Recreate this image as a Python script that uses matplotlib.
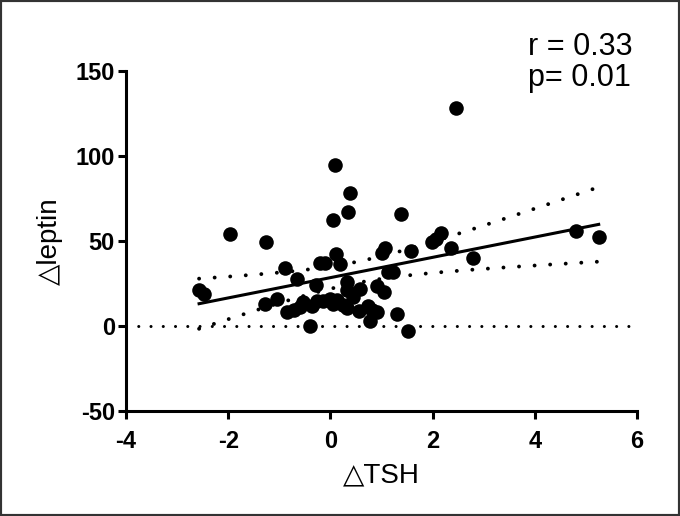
import numpy as np
import matplotlib.pyplot as plt
from matplotlib.patches import Rectangle

# data (delta TSH vs delta leptin)
tsh = [2.45, 0.08, 0.38, 0.34, 0.05, 1.38, -1.96, -1.26, 2.16, 2.06,
       1.98, 2.35, 2.80, 1.58, 1.07, 1.00, 0.10, 0.19, -0.20, -0.10,
       -0.88, -0.66, -0.28, 1.13, 1.23, 0.32, 0.33, 0.58, 0.92, 1.05,
       -2.57, -2.47, -1.28, -1.05, -0.72, -0.53, -0.37, -0.27, -0.14, 0.00,
       0.05, 0.25, 0.32, 0.56, 0.74, 0.81, 0.91, 1.30, 0.78, -0.40,
       1.51, 4.81, 5.25, -0.85, 0.12, -0.60, 0.45]
leptin = [128, 94.5, 78, 67, 62, 66, 54, 49.5, 54.5, 51,
          49, 46, 40, 44, 46, 42.5, 42, 36.5, 37, 37,
          34, 27.5, 24, 31.5, 31.5, 26, 21, 21.5, 23.5, 20,
          21, 18.5, 13, 15.5, 9, 13.8, 11.8, 14.7, 14.8, 15.7,
          12.7, 12, 10.5, 8.8, 11.8, 9.5, 8, 6.9, 3, 0,
          -3, 56, 52, 8, 15, 11, 17]

r_text = "r = 0.33"
p_text = "p= 0.01"

x = np.array(tsh)
y = np.array(leptin)

# linear fit with 95% confidence band
slope, icpt = np.polyfit(x, y, 1)
n = len(x)
xf = np.linspace(x.min(), x.max(), 200)
yf = slope * xf + icpt
resid = y - (slope * x + icpt)
s = np.sqrt(np.sum(resid**2) / (n - 2))
sxx = np.sum((x - x.mean())**2)
t_crit = 2.0
half = t_crit * s * np.sqrt(1 / n + (xf - x.mean())**2 / sxx)

plt.rcParams['font.family'] = ['Liberation Sans', 'DejaVu Sans']
plt.rcParams['axes.unicode_minus'] = False

fig = plt.figure(figsize=(6.8, 5.16), dpi=100)
ax = fig.add_axes([0.1853, 0.204, 0.7515, 0.659])

dots = (0, (0.01, 4))
ax.plot([-4, 6], [0, 0], color='black', lw=2.2, linestyle=dots,
        dash_capstyle='round', zorder=1)
ax.plot(xf, yf + half, color='black', lw=2.8, linestyle=dots,
        dash_capstyle='round', zorder=1)
ax.plot(xf, yf - half, color='black', lw=2.8, linestyle=dots,
        dash_capstyle='round', zorder=1)
ax.plot(xf, yf, color='black', lw=2.2, zorder=2)
ax.scatter(x, y, s=110, color='black', zorder=3, linewidths=0)

ax.set_xlim(-4, 6)
ax.set_ylim(-50, 150)
ax.set_xticks([-4, -2, 0, 2, 4, 6])
ax.set_yticks([-50, 0, 50, 100, 150])
for sp in ['top', 'right']:
    ax.spines[sp].set_visible(False)
for sp in ['left', 'bottom']:
    ax.spines[sp].set_linewidth(2.2)
ax.tick_params(axis='both', length=6, width=2.2, labelsize=17)
ax.tick_params(axis='x', pad=8)
ax.tick_params(axis='y', pad=2)
for lab in ax.get_xticklabels() + ax.get_yticklabels():
    lab.set_fontweight('bold')

ax.set_xlabel("\u25b3TSH", fontsize=20, labelpad=7)
ax.set_ylabel("\u25b3leptin", fontsize=20, labelpad=9)

fig.text(528 / 680, 1 - 55 / 516, r_text, fontsize=22, va='baseline')
fig.text(528 / 680, 1 - 86 / 516, p_text, fontsize=22, va='baseline')

fig.patches.append(Rectangle((0, 0), 1, 1, transform=fig.transFigure,
                             fill=False, edgecolor='#333333', lw=3))

fig.savefig("out.png", dpi=100)
